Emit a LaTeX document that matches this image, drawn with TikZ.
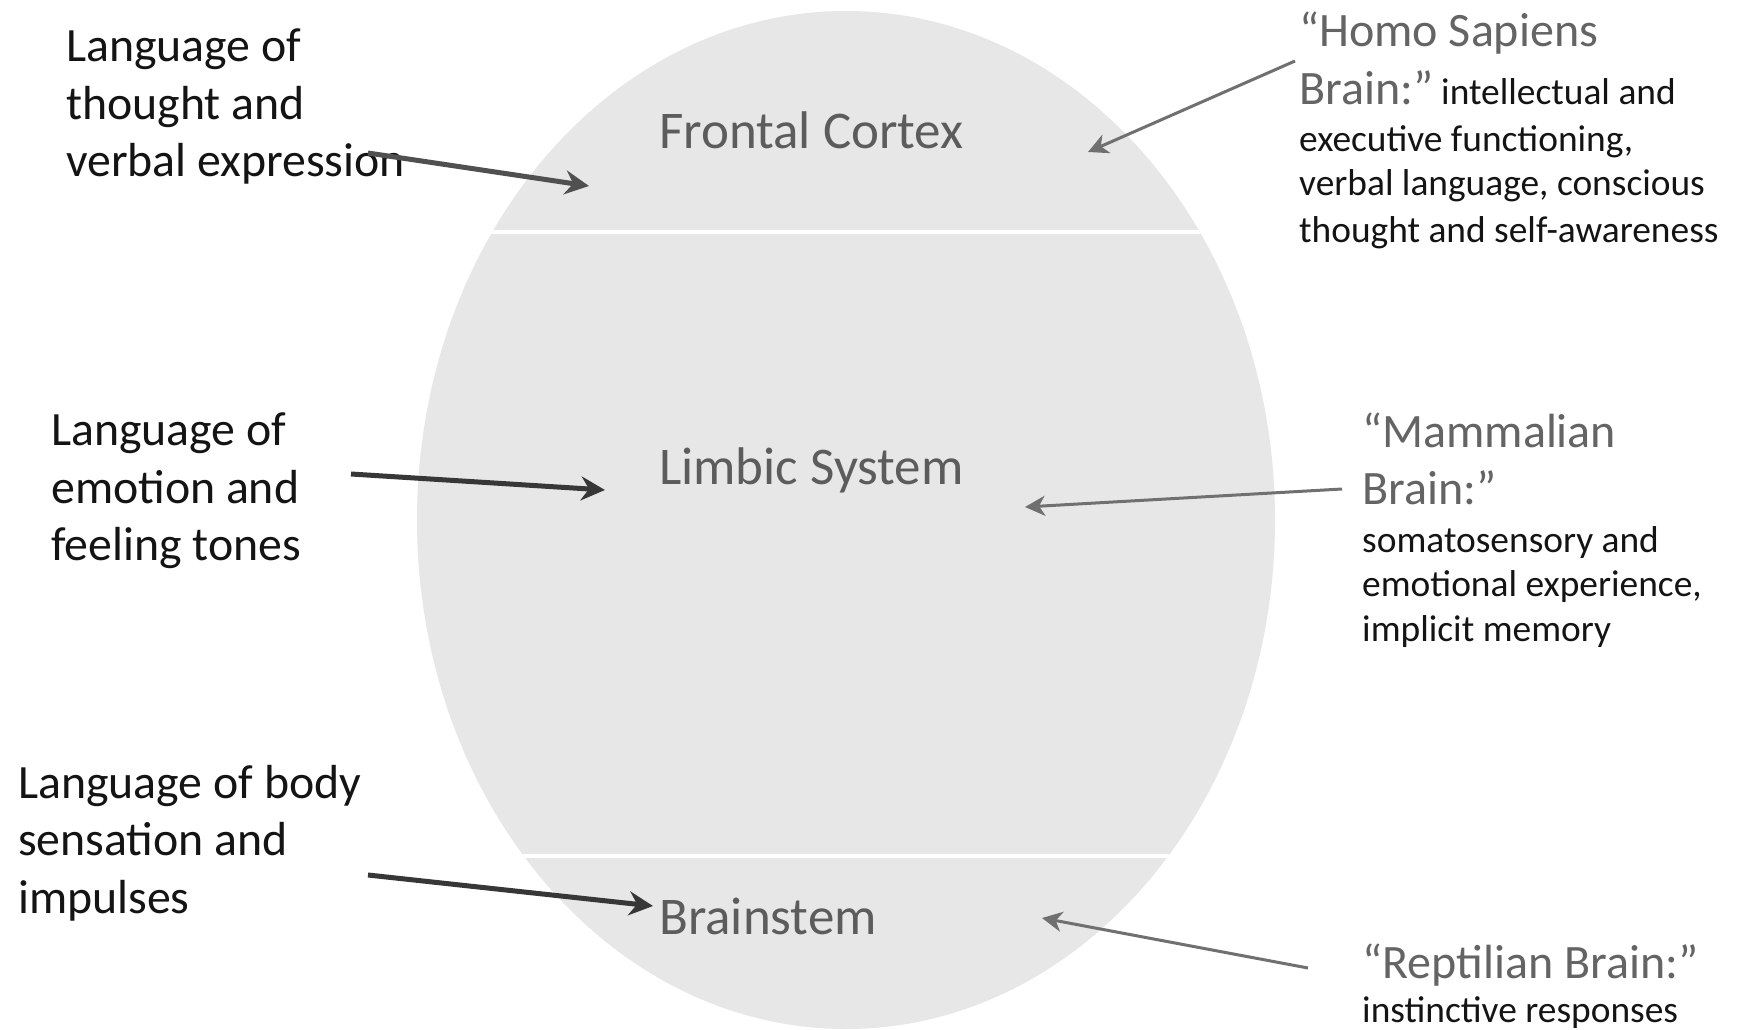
\documentclass[tikz,border=0pt]{standalone}
\usepackage{fontspec}
\setmainfont{Carlito}
\usetikzlibrary{arrows.meta}
\definecolor{bodyfill}{RGB}{231,231,231}
\definecolor{ingray}{RGB}{92,92,92}
\definecolor{headgray}{RGB}{100,100,100}
\definecolor{txtblack}{RGB}{20,20,20}
\definecolor{arrdark}{RGB}{55,55,55}
\definecolor{arrmid}{RGB}{80,80,80}
\definecolor{arrlight}{RGB}{112,112,112}
\begin{document}
\begin{tikzpicture}[x=1pt,y=-1pt,
  lefttxt/.style={anchor=base west, inner sep=0pt, text=txtblack, font=\fontsize{47.8}{57}\selectfont},
  intxt/.style={anchor=base west, inner sep=0pt, text=ingray, font=\fontsize{53}{62}\selectfont},
  headtxt/.style={anchor=base west, inner sep=0pt, text=headgray, font=\fontsize{48}{56}\selectfont},
  desctxt/.style={anchor=base west, inner sep=0pt, text=txtblack, font=\fontsize{37.4}{44}\selectfont},
  darrow/.style={-{Stealth[length=24pt,width=24pt,inset=8pt]}, line width=5pt},
  larrow/.style={-{Stealth[length=20pt,width=20pt,inset=6pt]}, line width=3pt, draw=arrlight},
  sepline/.style={draw=white, line width=4pt}
]
\fill[white] (0,0) rectangle (1738,1030);
\useasboundingbox (0,0) rectangle (1738,1030);

% brain body
\fill[bodyfill] (846,520) ellipse [x radius=429, y radius=509];
\begin{scope}
  \clip (846,520) ellipse [x radius=429, y radius=509];
  \draw[sepline] (400,232) -- (1300,232);
  \draw[sepline] (400,856) -- (1300,856);
\end{scope}

% inside labels
\node[intxt] (fc) at (659,149) {Frontal Cortex};
\node[intxt] (ls) at (659,484) {Limbic System};
\node[intxt] (bs) at (659,934) {Brainstem};

% left texts
\node[lefttxt] (l1a) at (66,62) {Language of};
\node[lefttxt] (l1b) at (66,120) {thought and};
\node[lefttxt] (l1c) at (66,177) {verbal expression};

\node[lefttxt] (l2a) at (51,445) {Language of};
\node[lefttxt] (l2b) at (51,503) {emotion and};
\node[lefttxt] (l2c) at (51,560) {feeling tones};

\node[lefttxt] (l3a) at (18,798) {Language of body};
\node[lefttxt] (l3b) at (18,855) {sensation and};
\node[lefttxt] (l3c) at (18,913) {impulses};

% right texts
\node[headtxt] (r1a) at (1299,47) {“Homo Sapiens};
\node[headtxt] (r1b) at (1299,105) {Brain:”\,{\color{txtblack}\fontsize{37.4}{44}\selectfont intellectual and}};
\node[desctxt] (r1c) at (1299,152) {executive functioning,};
\node[desctxt] (r1d) at (1299,196) {verbal language, conscious};
\node[desctxt] (r1e) at (1299,242) {thought and self-awareness};

\node[headtxt] (r2a) at (1362,447) {“Mammalian};
\node[headtxt] (r2b) at (1362,504) {Brain:”};
\node[desctxt] (r2c) at (1362,552) {somatosensory and};
\node[desctxt] (r2d) at (1362,596) {emotional experience,};
\node[desctxt] (r2e) at (1362,641) {implicit memory};

\node[headtxt] (r3a) at (1362,978) {“Reptilian Brain:”};
\node[desctxt] (r3b) at (1362,1022) {instinctive responses};

% arrow end points
\coordinate (a1s) at (368,153);
\coordinate (a1e) at (589,186);
\coordinate (a2s) at (351,474);
\coordinate (a2e) at (605,490);
\coordinate (a3s) at (368,875);
\coordinate (a3e) at (653,906);
\coordinate (a4s) at (1295,61);
\coordinate (a4e) at (1088,152);
\coordinate (a5s) at (1342,489);
\coordinate (a5e) at (1025,507);
\coordinate (a6s) at (1308,968);
\coordinate (a6e) at (1042,918);

\draw[darrow, draw=arrmid] (a1s) -- (a1e);
\draw[darrow, draw=arrdark] (a2s) -- (a2e);
\draw[darrow, draw=arrdark] (a3s) -- (a3e);
\draw[larrow] (a4s) -- (a4e);
\draw[larrow] (a5s) -- (a5e);
\draw[larrow] (a6s) -- (a6e);
\end{tikzpicture}
\end{document}
